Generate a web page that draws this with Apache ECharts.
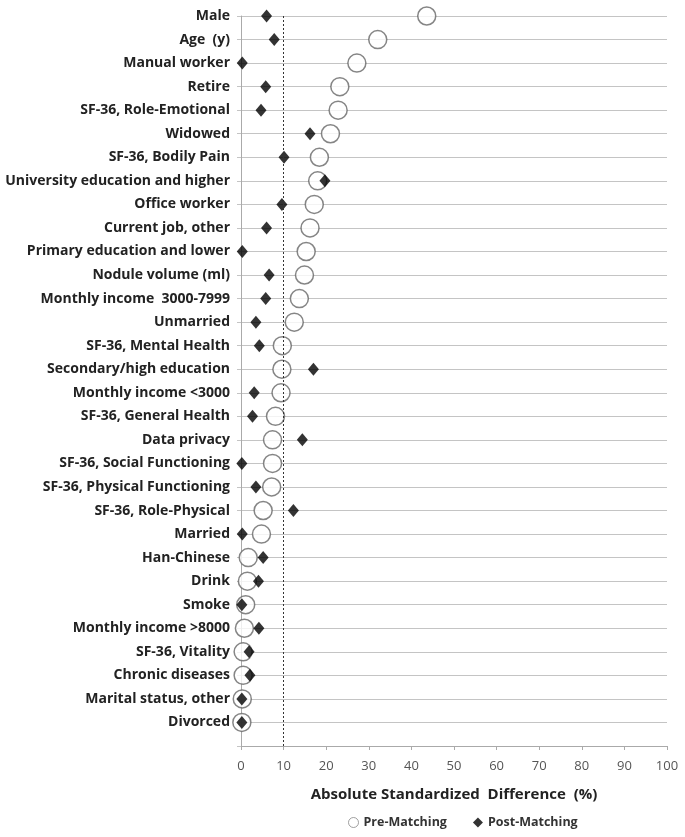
<!DOCTYPE html>
<html><head><meta charset="utf-8">
<script src="https://cdn.jsdelivr.net/npm/echarts@6/dist/echarts.min.js"></script>
<style>html,body{margin:0;padding:0;background:#fff}#c{width:685px;height:837px}</style>
</head><body><div id="c"></div>
<script>
// Categories from top (Male) to bottom (Divorced)
const categories = ["Male","Age  (y)","Manual worker","Retire","SF-36, Role-Emotional","Widowed","SF-36, Bodily Pain","University education and higher","Office worker","Current job, other","Primary education and lower","Nodule volume (ml)","Monthly income  3000-7999","Unmarried","SF-36, Mental Health","Secondary/high education","Monthly income <3000","SF-36, General Health","Data privacy","SF-36, Social Functioning","SF-36, Physical Functioning","SF-36, Role-Physical","Married","Han-Chinese","Drink","Smoke","Monthly income >8000","SF-36, Vitality","Chronic diseases","Marital status, other","Divorced"];
const preMatching = [43.6,32.1,27.2,23.2,22.8,21.0,18.4,18.0,17.2,16.2,15.3,14.9,13.7,12.5,9.7,9.6,9.4,8.1,7.4,7.4,7.2,5.2,4.8,1.7,1.5,1.1,0.8,0.5,0.5,0.3,0.2];
const postMatching = [6.0,7.8,0.3,5.8,4.7,16.2,10.1,19.7,9.6,6.0,0.3,6.6,5.8,3.5,4.3,17.0,3.1,2.7,14.4,0.2,3.5,12.3,0.3,5.2,4.1,0.2,4.2,1.9,2.1,0.2,0.2];
const xTicks = [0,10,20,30,40,50,60,70,80,90,100];
const threshold = 10;

const yCats = [""].concat(categories.slice().reverse());
const preData = categories.map((c,i)=>[preMatching[i], c]);
const postData = categories.map((c,i)=>[postMatching[i], c]);

const chart = echarts.init(document.getElementById('c'));
chart.setOption({
  animation:false,
  grid:{left:241,right:18,top:16,bottom:91,containLabel:false},
  legend:{
    bottom:3,left:343,itemGap:26,itemWidth:10,itemHeight:10,
    textStyle:{fontFamily:'Open Sans',fontWeight:'bold',fontSize:12.5,color:'#333'},
    data:[{name:'Pre-Matching',icon:'circle',itemStyle:{color:'#fff',borderColor:'#888',borderWidth:1}},
          {name:'Post-Matching',icon:'diamond'}]
  },
  xAxis:{
    type:'value',min:0,max:100,interval:10,
    name:'Absolute Standardized  Difference  (%)',nameLocation:'middle',nameGap:41,
    nameTextStyle:{fontFamily:'Open Sans',fontWeight:'bold',fontSize:15,color:'#222'},
    axisLine:{show:true,lineStyle:{color:'#aaa'}},
    axisTick:{show:true,length:4,lineStyle:{color:'#aaa'}},
    axisLabel:{margin:14,fontFamily:'Open Sans',fontSize:13,color:'#555',
      formatter:v=>xTicks.indexOf(v)>=0?String(v):''},
    splitLine:{show:false}
  },
  yAxis:{
    type:'category',data:yCats,boundaryGap:false,
    axisLine:{show:true,lineStyle:{color:'#aaa'}},
    axisTick:{show:true,length:4,lineStyle:{color:'#c4c4c4'}},
    axisLabel:{margin:11,fontFamily:'Open Sans',fontWeight:'bold',fontSize:14,color:'#222'},
    splitLine:{show:true,lineStyle:{color:'#c4c4c4',width:1}}
  },
  series:[
    {name:'Pre-Matching',type:'scatter',data:preData,symbol:'circle',symbolSize:18,
      itemStyle:{color:'#fff',borderColor:'#666',borderWidth:1.5},z:2,
      markLine:{silent:true,symbol:'none',label:{show:false},
        lineStyle:{type:[2,2],color:'#333',width:1},data:[{xAxis:threshold}]}},
    {name:'Post-Matching',type:'scatter',data:postData,symbol:'diamond',symbolSize:[11,13],
      itemStyle:{color:'#000'},z:3}
  ]
});
</script></body></html>
